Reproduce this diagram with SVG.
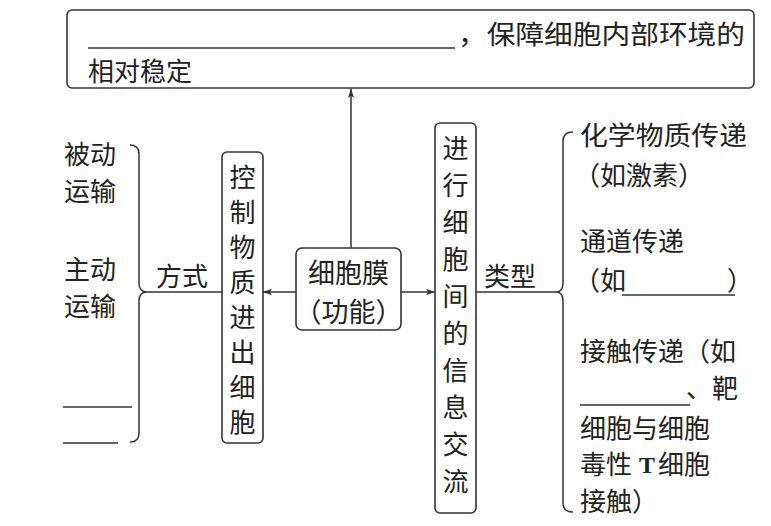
<svg xmlns="http://www.w3.org/2000/svg" width="771" height="526" viewBox="0 0 771 526">
<defs>
<style>
text{font-family:"Noto Sans CJK SC","Liberation Sans",sans-serif;font-size:26px;fill:#222;}
.box{fill:none;stroke:#333;stroke-width:1.6;}
.ln{fill:none;stroke:#333;stroke-width:1.5;}
.vt{text-anchor:middle;}
.lat{font-family:"Liberation Serif",serif;font-weight:bold;font-size:24px;}
</style>
<marker id="ah" viewBox="0 0 10 10" refX="10" refY="5" markerWidth="9" markerHeight="9" markerUnits="userSpaceOnUse" orient="auto">
<path d="M0,1.5 L10,5 L0,8.5 L2.5,5 Z" fill="#333"/>
</marker>
</defs>
<rect width="771" height="526" fill="#fff"/>

<g id="top">
<rect class="box" x="67" y="10" width="687" height="78" rx="5"/>
<line class="ln" x1="88" y1="48" x2="455" y2="48"/>
<text x="458" y="44" textLength="287" lengthAdjust="spacingAndGlyphs">，保障细胞内部环境的</text>
<text x="88" y="81">相对稳定</text>
</g>

<g id="center">
<rect class="box" x="296" y="248" width="105" height="82" rx="6"/>
<text x="348.5" y="283" class="vt" style="font-size:27px">细胞膜</text>
<text x="348.5" y="322" class="vt" style="font-size:27px">（功能）</text>
</g>

<g id="control">
<rect class="box" x="222" y="152" width="41" height="291" rx="5"/>
<text class="vt" x="242.5" y="187">控</text>
<text class="vt" x="242.5" y="222">制</text>
<text class="vt" x="242.5" y="257">物</text>
<text class="vt" x="242.5" y="292">质</text>
<text class="vt" x="242.5" y="327">进</text>
<text class="vt" x="242.5" y="362">出</text>
<text class="vt" x="242.5" y="397">细</text>
<text class="vt" x="242.5" y="432">胞</text>
</g>

<g id="info">
<rect class="box" x="435" y="123" width="41" height="390" rx="5"/>
<text class="vt" x="455.5" y="158">进</text>
<text class="vt" x="455.5" y="195">行</text>
<text class="vt" x="455.5" y="232">细</text>
<text class="vt" x="455.5" y="269">胞</text>
<text class="vt" x="455.5" y="306">间</text>
<text class="vt" x="455.5" y="343">的</text>
<text class="vt" x="455.5" y="380">信</text>
<text class="vt" x="455.5" y="417">息</text>
<text class="vt" x="455.5" y="454">交</text>
<text class="vt" x="455.5" y="491">流</text>
</g>

<g id="modes">
<text x="64" y="164">被动</text>
<text x="64" y="201">运输</text>
<text x="64" y="279">主动</text>
<text x="64" y="316">运输</text>
<line class="ln" x1="63" y1="407" x2="132" y2="407"/>
<line class="ln" x1="63" y1="443" x2="118" y2="443"/>
<text x="156" y="286">方式</text>
</g>

<g id="types">
<text x="484" y="286">类型</text>
<text x="580" y="145" textLength="167" lengthAdjust="spacingAndGlyphs">化学物质传递</text>
<text x="574" y="185">（如激素）</text>
<text x="580" y="251">通道传递</text>
<text x="574" y="290">（如</text>
<line class="ln" x1="622" y1="295" x2="735" y2="295"/>
<text x="727" y="290">）</text>
<text x="580" y="361">接触传递（如</text>
<line class="ln" x1="580" y1="405" x2="690" y2="405"/>
<text x="686" y="398">、靶</text>
<text x="580" y="438">细胞与细胞</text>
<text x="580" y="474">毒性</text>
<text x="639" y="473" class="lat">T</text>
<text x="658" y="474">细胞</text>
<text x="580" y="511">接触）</text>
</g>

<g id="connectors">
<line class="ln" x1="351" y1="248" x2="351" y2="89" marker-end="url(#ah)"/>
<line class="ln" x1="296" y1="292" x2="263" y2="292" marker-end="url(#ah)"/>
<line class="ln" x1="401" y1="292" x2="435" y2="292" marker-end="url(#ah)"/>
<line class="ln" x1="147" y1="292" x2="222" y2="292"/>
<line class="ln" x1="476" y1="292" x2="556" y2="292"/>
<path class="ln" d="M130,145 Q139,145 139,154 L139,283 Q139,292 147,292 Q139,292 139,301 L139,433 Q139,442 130,442"/>
<path class="ln" d="M573,132 Q563,132 563,141 L563,283 Q563,292 556,292 Q563,292 563,301 L563,503 Q563,512 573,512"/>
</g>
</svg>
